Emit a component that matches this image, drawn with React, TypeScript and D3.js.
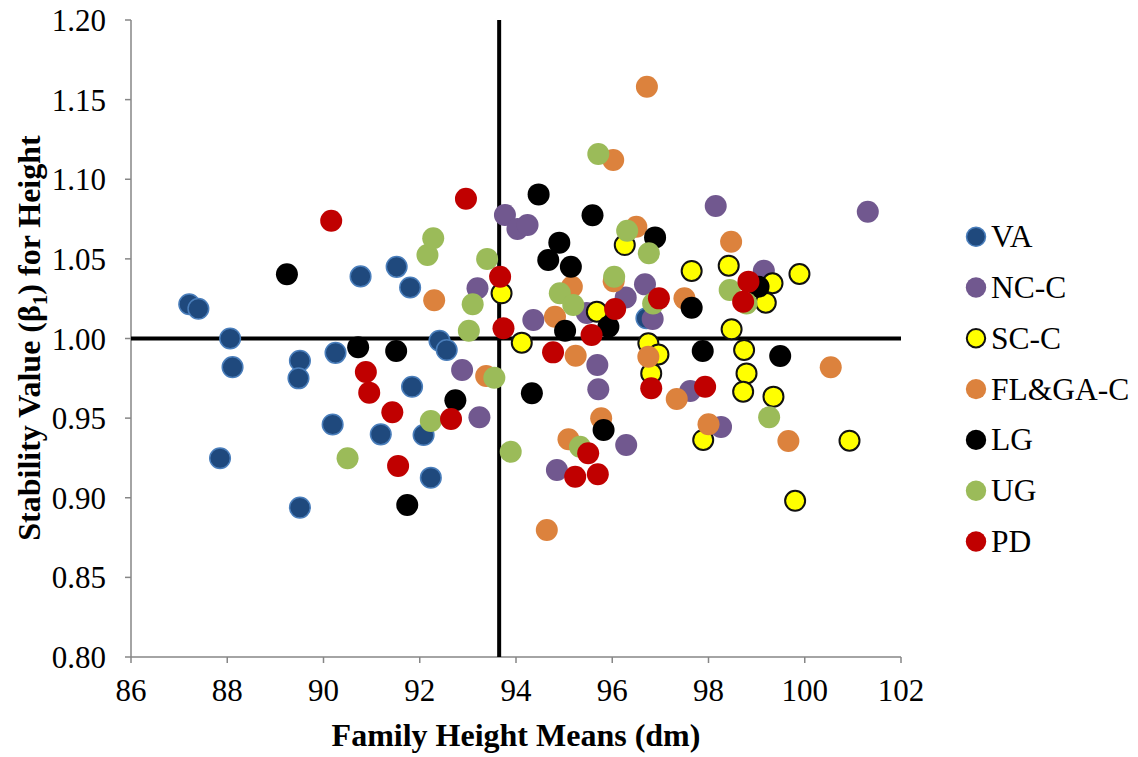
import React from 'react';
import * as d3 from 'd3';

const W = 1138;
const H = 757;

const xTicks = [86, 88, 90, 92, 94, 96, 98, 100, 102];
const yTicks = [0.8, 0.85, 0.9, 0.95, 1.0, 1.05, 1.1, 1.15, 1.2];
const xRef = 93.65;
const yRef = 1.0;

const VA: [number, number][] = [
  [87.21, 1.0215], [87.40, 1.0187], [88.06, 1.000], [88.11, 0.982], [87.85, 0.9248],
  [89.51, 0.986], [89.48, 0.975], [90.25, 0.991], [90.19, 0.946], [91.19, 0.9398],
  [89.51, 0.8938], [90.77, 1.039], [91.52, 1.045], [91.80, 1.032], [92.41, 0.9986],
  [92.56, 0.9928], [91.84, 0.9697], [92.08, 0.9394], [92.23, 0.9126], [96.71, 1.0127],
];
const NCC: [number, number][] = [
  [93.20, 1.0315], [92.88, 0.9802], [93.24, 0.9505], [94.36, 1.0116], [93.77, 1.0776],
  [94.03, 1.0688], [94.24, 1.0713], [95.47, 1.016], [96.28, 1.0257], [95.69, 0.9834],
  [95.71, 0.9681], [96.29, 0.9331], [94.85, 0.9174], [98.15, 1.0832], [101.31, 1.0796],
  [99.15, 1.0426], [96.68, 1.034], [96.84, 1.0123], [97.62, 0.967], [98.26, 0.9445],
];
const SCC: [number, number][] = [
  [93.70, 1.0284], [94.12, 0.9974], [95.68, 1.0168], [96.26, 1.0587], [97.65, 1.0424],
  [98.42, 1.0457], [99.89, 1.0405], [99.33, 1.0347], [99.19, 1.0225], [98.48, 1.0058],
  [96.75, 0.997], [96.96, 0.990], [96.81, 0.9781], [98.74, 0.9928], [98.79, 0.9781],
  [98.72, 0.9666], [99.35, 0.9635], [97.89, 0.9363], [100.93, 0.9358], [99.80, 0.8981],
];
const FLGA: [number, number][] = [
  [92.30, 1.024], [93.38, 0.9765], [95.16, 1.0325], [94.81, 1.0137], [95.24, 0.9892],
  [95.77, 0.9499], [95.09, 0.9367], [94.64, 0.8797], [96.02, 1.1121], [96.72, 1.1581],
  [96.50, 1.0702], [98.47, 1.0608], [97.50, 1.0252], [96.75, 0.9886], [100.54, 0.9819],
  [97.34, 0.962], [98.00, 0.9461], [99.66, 0.9356], [96.03, 1.036],
];
const LG: [number, number][] = [
  [89.24, 1.0403], [90.72, 0.9945], [91.51, 0.9922], [92.74, 0.9612], [91.74, 0.8955],
  [94.33, 0.9656], [94.47, 1.0905], [95.59, 1.0774], [94.90, 1.0602], [94.67, 1.0493],
  [95.14, 1.045], [95.02, 1.0049], [95.92, 1.0074], [95.82, 0.9425], [96.89, 1.0635],
  [97.65, 1.0193], [97.88, 0.9922], [99.49, 0.989], [99.04, 1.0325],
];
const UG: [number, number][] = [
  [90.50, 0.9248], [92.16, 1.0524], [92.28, 1.0629], [93.40, 1.050], [93.10, 1.0215],
  [93.02, 1.0049], [93.55, 0.9754], [92.23, 0.9482], [93.89, 0.9289], [94.91, 1.0284],
  [95.19, 1.021], [95.33, 0.932], [95.71, 1.1159], [96.04, 1.0388], [96.31, 1.0677],
  [96.76, 1.0535], [98.44, 1.0305], [98.79, 1.022], [96.85, 1.022], [99.26, 0.9505],
];
const PD: [number, number][] = [
  [90.16, 1.074], [90.88, 0.979], [90.95, 0.966], [91.43, 0.9537], [91.55, 0.920],
  [92.96, 1.0878], [93.67, 1.0388], [93.74, 1.0064], [92.65, 0.9495], [94.77, 0.9913],
  [95.57, 1.0022], [96.06, 1.0185], [95.50, 0.9279], [95.23, 0.9132], [95.70, 0.9147],
  [98.83, 1.0357], [98.72, 1.0231], [96.97, 1.0252], [96.81, 0.9687], [97.93, 0.9697],
];

const seriesNames = ['VA', 'NC-C', 'SC-C', 'FL&GA-C', 'LG', 'UG', 'PD'];
const seriesData = [VA, NCC, SCC, FLGA, LG, UG, PD];
const seriesStyle = [
  { fill: '#1F497D', stroke: '#4A7EBB', sw: 1.5, r: 10.3 },
  { fill: '#71588F', stroke: 'none', sw: 0, r: 11 },
  { fill: '#FFFF00', stroke: '#111111', sw: 2, r: 10 },
  { fill: '#DC823D', stroke: 'none', sw: 0, r: 11 },
  { fill: '#000000', stroke: 'none', sw: 0, r: 11 },
  { fill: '#9BBB59', stroke: 'none', sw: 0, r: 11 },
  { fill: '#C00000', stroke: 'none', sw: 0, r: 11 },
];

const FONT = '"Liberation Serif", "Times New Roman", serif';

export default function App() {
  const x = d3.scaleLinear().domain([86, 102]).range([131, 901]);
  const y = d3.scaleLinear().domain([0.8, 1.2]).range([657, 20]);
  const fmt = d3.format('.2f');
  const axisColor = '#868686';

  return (
    <svg width={W} height={H} style={{ position: 'absolute', left: 0, top: 0, background: '#fff' }}
      fontFamily={FONT}>
      {/* axes */}
      <line x1={x(86)} x2={x(86)} y1={y(1.2)} y2={y(0.8)} stroke={axisColor} strokeWidth={1.5} />
      <line x1={x(86)} x2={x(102)} y1={y(0.8)} y2={y(0.8)} stroke={axisColor} strokeWidth={1.5} />
      {yTicks.map((t) => (
        <g key={'yt' + t}>
          <line x1={x(86) - 6} x2={x(86)} y1={y(t)} y2={y(t)} stroke={axisColor} strokeWidth={1.5} />
          <text x={106} y={y(t) + 11} textAnchor="end" fontSize={31} fill="#000">{fmt(t)}</text>
        </g>
      ))}
      {xTicks.map((t) => (
        <g key={'xt' + t}>
          <line x1={x(t)} x2={x(t)} y1={y(0.8)} y2={y(0.8) + 6} stroke={axisColor} strokeWidth={1.5} />
          <text x={x(t)} y={701} textAnchor="middle" fontSize={31} fill="#000">{t}</text>
        </g>
      ))}
      {/* reference lines */}
      <line x1={x(86)} x2={x(102)} y1={y(yRef)} y2={y(yRef)} stroke="#000" strokeWidth={4} />
      <line x1={x(xRef)} x2={x(xRef)} y1={y(1.2)} y2={y(0.8)} stroke="#000" strokeWidth={4} />
      {/* points */}
      {seriesData.map((data, si) => (
        <g key={'s' + si}>
          {data.map((d, i) => (
            <circle key={i} cx={x(d[0])} cy={y(d[1])} r={seriesStyle[si].r}
              fill={seriesStyle[si].fill} stroke={seriesStyle[si].stroke} strokeWidth={seriesStyle[si].sw} />
          ))}
        </g>
      ))}
      {/* axis titles */}
      <text x={516} y={746} textAnchor="middle" fontSize={32} fontWeight="bold" fill="#000">
        Family Height Means (dm)
      </text>
      <text transform="translate(40,338) rotate(-90)" textAnchor="middle" fontSize={32} fontWeight="bold" fill="#000">
        Stability Value (β<tspan dy={7} fontSize={21}>1</tspan><tspan dy={-7}>) for Height</tspan>
      </text>
      {/* legend */}
      {seriesNames.map((n, i) => (
        <g key={'lg' + i} transform={`translate(976, ${236.7 + i * 50.8})`}>
          <circle r={seriesStyle[i].r - 0.8} fill={seriesStyle[i].fill} stroke={seriesStyle[i].stroke}
            strokeWidth={seriesStyle[i].sw} />
          <text x={15} y={10.5} fontSize={31.5} fill="#000">{n}</text>
        </g>
      ))}
    </svg>
  );
}
